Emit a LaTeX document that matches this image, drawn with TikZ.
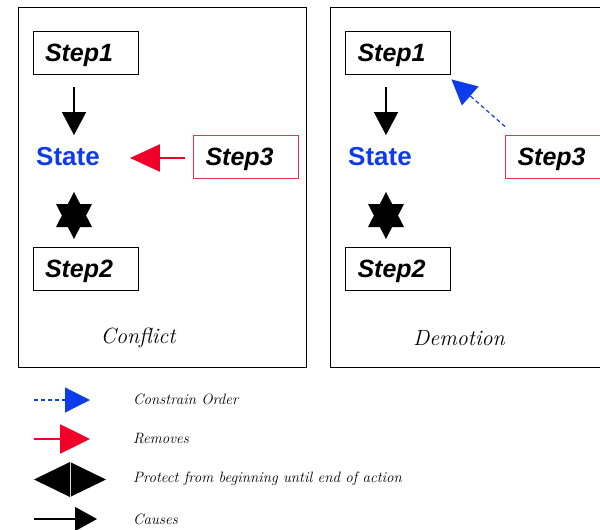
\documentclass[tikz,border=0pt]{standalone}
\usepackage{fontspec}
\newfontfamily\stepfont{Liberation Sans}
\usetikzlibrary{arrows.meta}
\definecolor{stateblue}{RGB}{15,60,235}
\definecolor{remred}{RGB}{240,0,40}
\definecolor{boxred}{RGB}{235,50,75}

% six-pointed "protect" star centred on a named coordinate
\newcommand\protectstar[1]{%
  \fill (#1) ++(0,-23.5) -- ++(18,35) -- ++(-36,0) -- cycle;
  \fill (#1) ++(0,23.5) -- ++(18,-35) -- ++(-36,0) -- cycle;}

\begin{document}
\begin{tikzpicture}[x=1pt,y=-1pt,
  panel/.style={draw, line width=1pt},
  stepbox/.style={draw, line width=0.9pt, minimum height=43pt, text width=81pt,
    text height=18pt, text depth=0pt,
    inner xsep=12pt, inner ysep=0pt, align=left,
    font=\stepfont\bfseries\itshape\fontsize{25}{25}\selectfont},
  statetext/.style={text=stateblue, inner sep=0pt,
    font=\stepfont\bfseries\fontsize{26}{26}\selectfont},
  caption/.style={font=\itshape\fontsize{22}{22}\selectfont},
  legtext/.style={anchor=west, inner sep=0pt, font=\itshape\fontsize{15}{15}\selectfont},
  causes/.style={line width=1.5pt, -{Triangle[length=23pt,width=24pt]}},
  removes/.style={draw=remred, line width=2.5pt, -{Triangle[length=30pt,width=27pt]}},
  order/.style={draw=stateblue, line width=1.2pt, dash pattern=on 4pt off 3pt,
    -{Triangle[length=25pt,width=25pt]}},
]
\useasboundingbox (0,0) rectangle (600,530);

% ---- Conflict panel
\draw[panel] (18,7) rectangle (306,367);
\node[stepbox] (s1L) at (85.5,52.5) {Step1};
\node[statetext] (stL) at (68,157) {State};
\node[stepbox] (s2L) at (85.5,268.5) {Step2};
\node[stepbox, draw=boxred] (s3L) at (246,156.5) {Step3};
\draw[causes] ([xshift=-11.5pt,yshift=-13pt]s1L.south) -- ([xshift=6pt,yshift=12.5pt]stL.north);
\draw[removes, shorten <=8pt, shorten >=30pt] ([yshift=-1.5pt]s3L.west) -- ([yshift=-1pt]stL.east);
\coordinate (pL) at (74,215.5);
\protectstar{pL}
\node[caption] (cL) at (138,338) {Conflict};

% ---- Demotion panel
\draw[panel] (330,7) rectangle (612,367);
\node[stepbox] (s1R) at (398,52.5) {Step1};
\node[statetext] (stR) at (380,157) {State};
\node[stepbox] (s2R) at (398,268.5) {Step2};
\node[stepbox, draw=boxred] (s3R) at (558,156.5) {Step3};
\draw[causes] ([xshift=-12pt,yshift=-13pt]s1R.south) -- ([xshift=6pt,yshift=12.5pt]stR.north);
\draw[order] ([yshift=8pt]s3R.north west) -- ([xshift=0.5pt,yshift=-5pt]s1R.south east);
\coordinate (pR) at (386,215.5);
\protectstar{pR}
\node[caption] (cR) at (459,338) {Demotion};

% ---- legend
\coordinate (lo1) at (34,400);
\coordinate (lo2) at (90,400);
\draw[order] (lo1) -- (lo2);
\node[legtext] (to) at (133,399) {Constrain Order};

\coordinate (lr1) at (34,439);
\coordinate (lr2) at (90,439);
\draw[removes, -{Triangle[length=30pt,width=29pt]}] (lr1) -- (lr2);
\node[legtext] (tr) at (133,439) {Removes};

\coordinate (lp) at (70,479.5);
\fill (lp) ++(-36,0) -- ++(36,-17.5) -- ++(36,17.5) -- ++(-36,17.5) -- cycle;
\draw[gray!30, line width=0.8pt] (lp) ++(0,-17.5) -- ++(0,35);
\node[legtext] (tp) at (133,479) {Protect from beginning until end of action};

\coordinate (lc1) at (34,519);
\coordinate (lc2) at (97,519);
\draw[causes, -{Triangle[length=22pt,width=24pt]}] (lc1) -- (lc2);
\node[legtext] (tc) at (133,519) {Causes};
\end{tikzpicture}
\end{document}
